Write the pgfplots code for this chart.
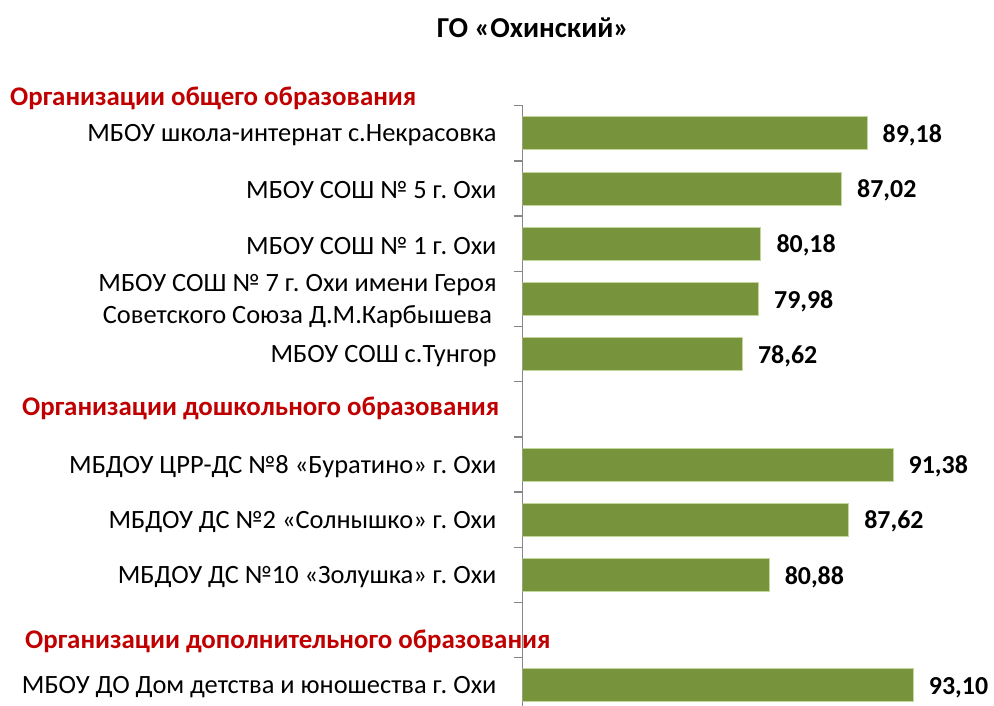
\documentclass[border=0pt]{standalone}
\usepackage{fontspec}
\setmainfont{Carlito}
\usepackage{pgfplots}
\pgfplotsset{compat=1.18}
\definecolor{barfill}{HTML}{77933C}
\definecolor{baredge}{HTML}{C3D69B}
\definecolor{hdrred}{HTML}{C00000}
\definecolor{axgray}{HTML}{868686}
\frenchspacing
\begin{document}
\begin{tikzpicture}
\useasboundingbox (0,0) rectangle (994bp,706bp);
\begin{axis}[
  scale only axis, width=472bp, height=607.2bp,
  at={(522.7bp,-6.9bp)}, anchor=south west,
  xbar, bar width=33bp,
  xmin=60, xmax=100,
  ymin=0.5, ymax=11.5, y dir=reverse,
  axis x line=none, axis y line*=left,
  axis line style={axgray, line width=1.5bp, -},
  major tick style={axgray, line width=1.5bp},
  ytick={1,...,11},
  yticklabels={
    МБОУ школа-интернат с.Некрасовка,
    МБОУ СОШ № 5 г. Охи,
    МБОУ СОШ № 1 г. Охи,
    {МБОУ СОШ № 7 г. Охи имени Героя\\Советского Союза Д.М.Карбышева},
    МБОУ СОШ с.Тунгор,
    {},
    МБДОУ ЦРР-ДС №8 «Буратино» г. Охи,
    МБДОУ ДС №2 «Солнышко» г. Охи,
    МБДОУ ДС №10 «Золушка» г. Охи,
    {},
    МБОУ ДО Дом детства и юношества г. Охи},
  major tick length=0pt,
  yticklabel style={font=\fontsize{26.5}{32}\selectfont, align=center, inner sep=0pt, xshift=-26bp, yshift=-2bp},
  extra y ticks={0.5,1.5,...,11.5},
  extra y tick labels={},
  extra y tick style={major tick length=9bp, tick align=outside},
  point meta=x,
  nodes near coords={\pgfmathprintnumber[fixed, fixed zerofill, precision=2, use comma, assume math mode=true]{\pgfplotspointmeta}},
  nodes near coords style={font=\fontsize{26}{30}\selectfont\bfseries, anchor=west, xshift=12bp, yshift=-2bp},
]
\addplot[fill=barfill, draw=baredge, line width=0.75bp] coordinates {
  (89.18,1) (87.02,2) (80.18,3) (79.98,4) (78.62,5)
  (91.38,7) (87.62,8) (80.88,9) (93.10,11)};
\end{axis}
\node[font=\fontsize{29}{34}\selectfont\bfseries] at (533bp,678bp) {ГО «Охинский»};
\node[anchor=west, inner sep=0pt, text=hdrred, font=\fontsize{27}{32}\selectfont\bfseries] at (10bp,608bp) {Организации общего образования};
\node[anchor=west, inner sep=0pt, text=hdrred, font=\fontsize{27}{32}\selectfont\bfseries] at (22bp,298bp) {Организации дошкольного образования};
\node[anchor=west, inner sep=0pt, text=hdrred, font=\fontsize{27}{32}\selectfont\bfseries] at (25bp,65bp) {Организации дополнительного образования};
\end{tikzpicture}
\end{document}
